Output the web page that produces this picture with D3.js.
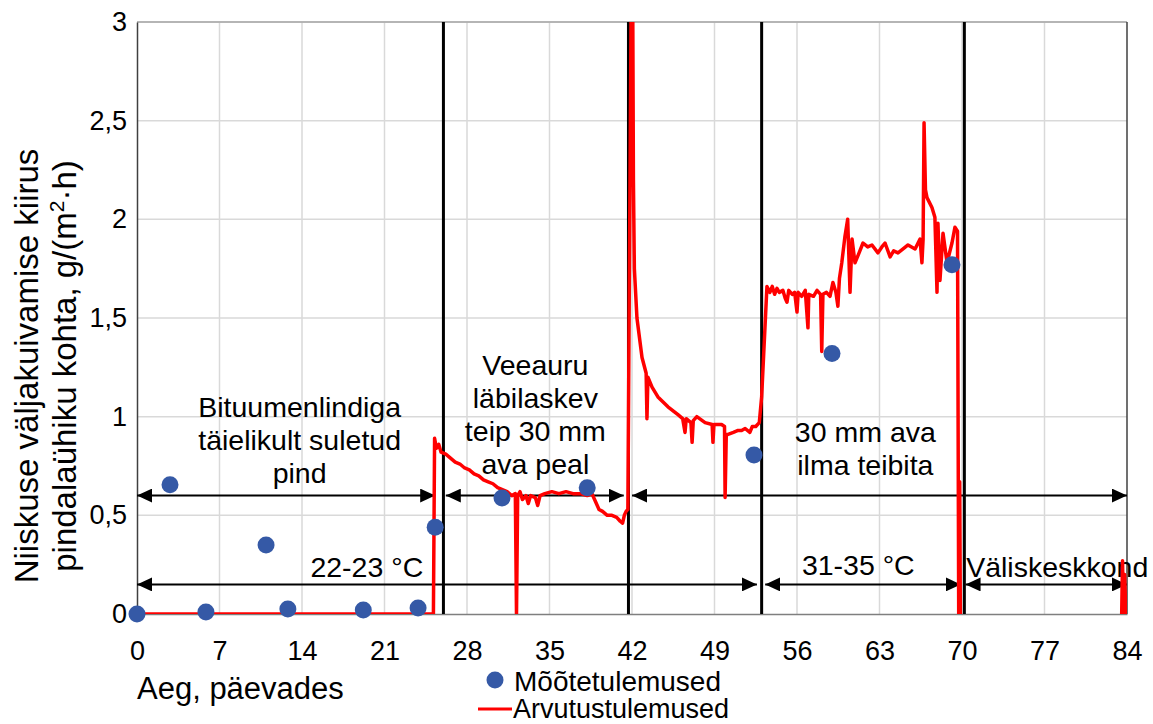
<!DOCTYPE html>
<html>
<head>
<meta charset="utf-8">
<script src="https://cdn.jsdelivr.net/npm/d3@7"></script>
<style>
  body { margin: 0; background: #fff; }
  text { font-family: "Liberation Sans", Arial, sans-serif; fill: #000; }
</style>
</head>
<body>
<div id="chart"></div>
<script>
const w = 1153
const h = 724
const margin = { top: 22, right: 26, bottom: 110, left: 137 }

// measured points (blue dots)
const measuredDays = [0, 2.8, 5.85, 10.95, 12.8, 19.2, 23.85, 25.3, 30.97, 38.2, 52.35, 58.97, 69.15]
const measuredRate = [0, 0.655, 0.01, 0.35, 0.025, 0.02, 0.03, 0.44, 0.588, 0.64, 0.806, 1.32, 1.77]

// calculated series, [day, rate]; null = no data
const calculated = [
  [0, 0], [25.15, 0], [25.25, 0.89], [25.4, 0.84], [25.6, 0.86], [25.8, 0.82], [26.2, 0.81],
  [26.6, 0.79], [27, 0.77], [27.4, 0.76], [27.8, 0.74], [28.2, 0.73], [28.6, 0.71], [29, 0.7],
  [29.4, 0.68], [29.8, 0.67], [30.2, 0.66], [30.6, 0.64], [31, 0.63], [31.4, 0.62], [31.8, 0.6],
  [32.1, 0.61], [32.2, 0], [32.3, 0.6], [32.5, 0.62], [32.7, 0.58], [33, 0.6], [33.2, 0.56],
  [33.4, 0.6], [33.8, 0.59], [34, 0.55], [34.2, 0.6], [34.6, 0.61], [35.2, 0.62], [35.8, 0.61],
  [36.4, 0.62], [37, 0.61], [37.6, 0.61], [38.2, 0.6], [38.6, 0.61], [38.9, 0.57], [39.2, 0.53],
  [39.5, 0.52], [39.9, 0.5], [40.3, 0.5], [40.7, 0.49], [41, 0.47], [41.2, 0.46], [41.35, 0.5],
  [41.5, 0.52], [41.65, 0.53], [41.95, 3.3], [42.05, 3.3], [42.12, 2.2], [42.2, 1.75],
  [42.42, 1.5], [42.85, 1.3], [43.2, 1.22], [43.27, 0.99], [43.35, 1.2], [43.7, 1.15],
  [44.2, 1.1], [45.05, 1.05], [45.9, 1.01], [46.3, 0.99], [46.5, 0.92], [46.6, 0.99],
  [47, 0.97], [47.1, 0.87], [47.2, 0.98], [47.5, 1], [48.2, 0.97], [48.8, 0.96], [48.87, 0.87],
  [48.95, 0.96], [49.6, 0.96], [49.85, 0.95], [49.9, 0.59], [50, 0.91], [50.15, 0.91],
  [50.6, 0.92], [51, 0.93], [51.3, 0.93], [51.6, 0.94], [52, 0.92], [52.2, 0.95], [52.5, 0.95],
  [52.8, 0.97], [53, 1.1], [53.45, 1.66], [53.7, 1.63], [53.9, 1.66], [54.1, 1.62], [54.3, 1.65],
  [54.5, 1.63], [54.8, 1.64], [55, 1.6], [55.15, 1.58], [55.3, 1.64], [55.6, 1.62], [55.8, 1.63],
  [56, 1.53], [56.1, 1.63], [56.4, 1.61], [56.7, 1.64], [56.93, 1.45], [57, 1.62], [57.4, 1.61],
  [57.7, 1.64], [58, 1.62], [58.1, 1.33], [58.2, 1.62], [58.5, 1.63], [58.8, 1.61], [59.05, 1.68],
  [59.3, 1.63], [59.47, 1.56], [59.6, 1.7], [59.8, 1.78], [60.06, 1.91], [60.3, 2.0], [60.5, 1.63],
  [60.67, 1.9], [60.92, 1.78], [61.2, 1.82], [61.6, 1.88], [62, 1.86], [62.36, 1.87],
  [62.87, 1.83], [63.2, 1.86], [63.47, 1.88], [63.9, 1.81], [64.2, 1.84], [64.57, 1.83],
  [65, 1.85], [65.42, 1.87], [66.02, 1.85], [66.44, 1.9], [66.6, 1.78], [66.7, 1.9],
  [66.78, 2.49], [66.9, 2.15], [67.03, 2.11], [67.45, 2.06], [67.7, 2.01], [67.88, 1.63],
  [67.96, 1.98], [68.13, 1.69], [68.39, 1.93], [68.73, 1.78], [69.15, 1.88], [69.4, 1.96],
  [69.62, 1.94], [69.72, 0], [69.8, 0.67], [69.86, 0],
  null,
  [83.55, 0], [83.62, 0.27], [83.7, 0], [83.8, 0.2], [83.9, 0]
]

const xTicks = [0, 7, 14, 21, 28, 35, 42, 49, 56, 63, 70, 77, 84]
const yTicks = [0, 0.5, 1, 1.5, 2, 2.5, 3]

// stage boundaries (days)
const stageLines = [26.0, 41.7, 53.0, 70.2]
// double arrows: [fromDay, toDay, rate]
const arrows = [
  [0, 25.3, 0.6], [26.2, 41.3, 0.6], [42.0, 84, 0.6],
  [0, 52.6, 0.15], [53.3, 69.9, 0.15], [70.3, 84, 0.15]
]
// labels: [lines, day, rate of first line, anchor]
const labels = [
  [["Bituumenlindiga", "täielikult suletud", "pind"], 13.8, 1.05, "middle"],
  [["Veeauru", "läbilaskev", "teip 30 mm", "ava peal"], 33.8, 1.26, "middle"],
  [["30 mm ava", "ilma teibita"], 61.8, 0.92, "middle"],
  [["22-23 °C"], 19.5, 0.24, "middle"],
  [["31-35 °C"], 61.2, 0.25, "middle"],
  [["Väliskeskkond"], 70.35, 0.24, "start"]
]

const svg = d3.select("#chart")
  .append("svg")
  .attr("width", w)
  .attr("height", h)

const x = d3.scaleLinear().domain([0, 84]).range([margin.left, w - margin.right])
const y = d3.scaleLinear().domain([0, 3]).range([h - margin.bottom, margin.top])

const defs = svg.append("defs")
defs.append("clipPath").attr("id", "plot")
  .append("rect")
  .attr("x", x(0)).attr("y", y(3))
  .attr("width", x(84) - x(0)).attr("height", y(0) - y(3))

defs.append("marker")
  .attr("id", "head")
  .attr("markerUnits", "userSpaceOnUse")
  .attr("markerWidth", 16).attr("markerHeight", 14)
  .attr("refX", 15).attr("refY", 7)
  .attr("orient", "auto-start-reverse")
  .append("path")
  .attr("d", "M0,0 L15,7 L0,14 Z")
  .attr("fill", "#000")

// grid
svg.append("g")
  .selectAll("line")
  .data(xTicks.slice(1, -1))
  .enter().append("line")
  .attr("x1", d => x(d)).attr("x2", d => x(d))
  .attr("y1", y(0)).attr("y2", y(3))
  .attr("stroke", "#d9d9d9").attr("stroke-width", 1.5)
svg.append("g")
  .selectAll("line")
  .data(yTicks.slice(1))
  .enter().append("line")
  .attr("x1", x(0)).attr("x2", x(84))
  .attr("y1", d => y(d)).attr("y2", d => y(d))
  .attr("stroke", "#d9d9d9").attr("stroke-width", 1.5)

// frame
svg.append("line").attr("x1", x(0)).attr("x2", x(84)).attr("y1", y(3)).attr("y2", y(3))
  .attr("stroke", "#a6a6a6").attr("stroke-width", 1.5)
svg.append("line").attr("x1", x(84)).attr("x2", x(84)).attr("y1", y(3)).attr("y2", y(0))
  .attr("stroke", "#404040").attr("stroke-width", 1.5)

// axes
const xAxis = d3.axisBottom(x).tickValues(xTicks).tickSize(0).tickPadding(27)
const yAxis = d3.axisLeft(y).tickValues(yTicks).tickSize(0).tickPadding(10)
  .tickFormat(d => String(d).replace(".", ","))

svg.append("g")
  .attr("transform", `translate(0, ${y(0)})`)
  .call(xAxis)
  .call(g => g.select(".domain").attr("stroke", "#7f7f7f").attr("stroke-width", 1.5))
  .selectAll("text").attr("font-size", 27).attr("font-family", "Liberation Sans, Arial, sans-serif")
svg.append("g")
  .attr("transform", `translate(${x(0)}, 0)`)
  .call(yAxis)
  .call(g => g.select(".domain").attr("stroke", "#404040").attr("stroke-width", 1.5))
  .selectAll("text").attr("font-size", 27).attr("font-family", "Liberation Sans, Arial, sans-serif")

// stage lines
svg.append("g")
  .selectAll("line")
  .data(stageLines)
  .enter().append("line")
  .attr("x1", d => x(d)).attr("x2", d => x(d))
  .attr("y1", y(0)).attr("y2", y(3))
  .attr("stroke", "#000").attr("stroke-width", 3)

// arrows
svg.append("g")
  .selectAll("line")
  .data(arrows)
  .enter().append("line")
  .attr("x1", d => x(d[0])).attr("x2", d => x(d[1]))
  .attr("y1", d => y(d[2])).attr("y2", d => y(d[2]))
  .attr("stroke", "#000").attr("stroke-width", 2)
  .attr("marker-start", "url(#head)")
  .attr("marker-end", "url(#head)")

// labels
const lineGap = 33
labels.forEach(([lines, day, rate, anchor]) => {
  const t = svg.append("text")
    .attr("text-anchor", anchor)
    .attr("font-size", 28.5)
  lines.forEach((s, i) => {
    t.append("tspan")
      .attr("x", x(day))
      .attr("y", y(rate) + i * lineGap + 10)
      .text(s)
  })
})

// calculated line
const line = d3.line()
  .defined(d => d !== null)
  .x(d => x(d[0]))
  .y(d => y(d[1]))

svg.append("path")
  .datum(calculated)
  .attr("clip-path", "url(#plot)")
  .attr("d", line)
  .attr("fill", "none")
  .attr("stroke", "#ff0000")
  .attr("stroke-width", 3.5)
  .attr("stroke-linejoin", "round")

// measured dots
svg.append("g")
  .selectAll("circle")
  .data(measuredDays)
  .enter().append("circle")
  .attr("cx", d => x(d))
  .attr("cy", (d, i) => y(measuredRate[i]))
  .attr("r", 8.5)
  .attr("fill", "#3559a6")

// axis titles
svg.append("text")
  .attr("x", x(0))
  .attr("y", 699)
  .attr("font-size", 31)
  .text("Aeg, päevades")

const yTitle = svg.append("text")
  .attr("transform", "translate(0, 366) rotate(-90)")
  .attr("text-anchor", "middle")
  .attr("font-size", 33)
yTitle.append("tspan").attr("x", 0).attr("y", 38).text("Niiskuse väljakuivamise kiirus")
const l2 = yTitle.append("tspan").attr("x", 0).attr("y", 76).text("pindalaühiku kohta, g/(m")
l2.append("tspan").attr("font-size", 21).attr("dy", -12).text("2")
l2.append("tspan").attr("dy", 12).text("·h)")

// legend
svg.append("circle").attr("cx", 495).attr("cy", 680).attr("r", 8.5).attr("fill", "#3559a6")
svg.append("text").attr("x", 514).attr("y", 691).attr("font-size", 28).text("Mõõtetulemused")
svg.append("line").attr("x1", 478).attr("x2", 512).attr("y1", 709).attr("y2", 709)
  .attr("stroke", "#ff0000").attr("stroke-width", 3)
svg.append("text").attr("x", 513).attr("y", 718).attr("font-size", 27).text("Arvutustulemused")
</script>
</body>
</html>
